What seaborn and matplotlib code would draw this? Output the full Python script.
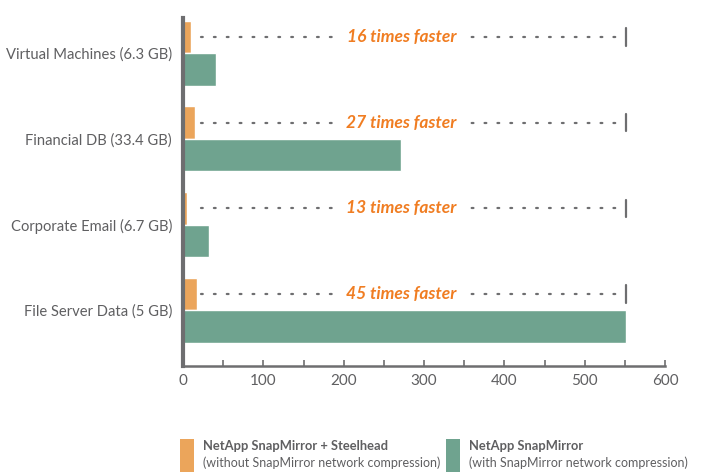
import pandas as pd
import matplotlib
matplotlib.use("Agg")
import matplotlib.pyplot as plt
import seaborn as sns
from matplotlib.patches import Rectangle
from matplotlib.ticker import MultipleLocator

# chart values
categories = ["Virtual Machines (6.3 GB)", "Financial DB (33.4 GB)",
              "Corporate Email (6.7 GB)", "File Server Data (5 GB)"]
steelhead = [10, 15, 5, 18]
snapmirror = [41, 271, 32, 552]
speedup = ["16 times faster", "27 times faster", "13 times faster", "45 times faster"]
series = ["NetApp SnapMirror + Steelhead", "NetApp SnapMirror"]
series_notes = ["(without SnapMirror network compression)", "(with SnapMirror network compression)"]
marker_value = 552

orange = "#EBA55B"
green = "#6FA38F"
text_orange = "#F07D22"
gray = "#6E6E70"
label_gray = "#5F5F61"

data = pd.DataFrame({
    "category": categories * 2,
    "value": steelhead + snapmirror,
    "series": [series[0]] * 4 + [series[1]] * 4,
})

sns.set_style("white")
plt.rcParams["font.family"] = ["Lato", "DejaVu Sans"]

fig = plt.figure(figsize=(7.11, 4.74), dpi=100)
ax = fig.add_axes([0.2574, 0.2278, 0.6779, 0.734])

sns.barplot(data=data, x="value", y="category", hue="series", orient="h",
            palette=[orange, green], saturation=1, width=0.76, edgecolor="white",
            linewidth=1, legend=False, ax=ax)

ax.set_xlim(0, 600)
ax.set_ylim(3.65, -0.41)
ax.set_xlabel("")
ax.set_ylabel("")
ax.xaxis.set_major_locator(MultipleLocator(100))
ax.xaxis.set_minor_locator(MultipleLocator(50))
ax.tick_params(axis="x", which="both", direction="in", length=4, width=1.2,
               colors=gray, labelcolor=label_gray, labelsize=11, pad=6, bottom=True)
ax.tick_params(axis="y", length=0, labelcolor=label_gray, labelsize=10.6, pad=8)

for s in ["top", "right"]:
    ax.spines[s].set_visible(False)
ax.spines["left"].set_color(gray)
ax.spines["left"].set_linewidth(3)
ax.spines["bottom"].set_color(gray)
ax.spines["bottom"].set_linewidth(1.8)

# speedup annotations with dotted guide lines
for i, txt in enumerate(speedup):
    yy = i - 0.19
    ax.plot([22, 540], [yy, yy], linestyle=(0, (0.8, 5)), color=gray, linewidth=1.6,
            dash_capstyle="round", zorder=2)
    ax.plot([marker_value, marker_value], [yy - 0.1, yy + 0.1], color=gray, linewidth=1.6, zorder=2)
    ax.text(272, yy, txt, ha="center", va="center", color=text_orange, fontsize=12.5,
            fontweight="bold", fontstyle="italic", zorder=3,
            bbox=dict(facecolor="white", edgecolor="none", pad=4))

# legend built by hand
for x0, col, name, note in [(180, orange, series[0], series_notes[0]),
                            (446, green, series[1], series_notes[1])]:
    fig.patches.append(Rectangle((x0 / 711, 1 - 472 / 474), 14 / 711, 33 / 474,
                                 transform=fig.transFigure, facecolor=col, edgecolor="none"))
    fig.text((x0 + 23) / 711, 1 - 450 / 474, name, fontsize=9.3, fontweight="bold",
             color=label_gray, va="baseline")
    fig.text((x0 + 23) / 711, 1 - 467 / 474, note, fontsize=9, color=label_gray, va="baseline")

fig.savefig("out.png", dpi=100)
